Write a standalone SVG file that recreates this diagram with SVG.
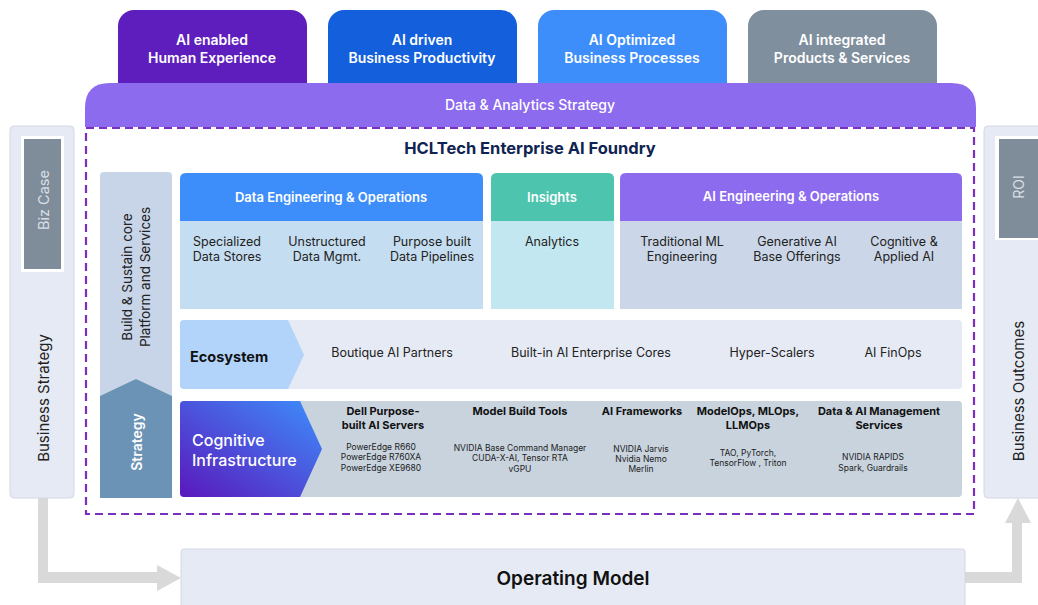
<svg xmlns="http://www.w3.org/2000/svg" width="1038" height="605" viewBox="0 0 1038 605">
<defs>
<style>
text{font-family:Inter,"Noto Sans","Liberation Sans",sans-serif;text-anchor:middle}
.tab{font-size:14px;font-weight:600;fill:#fff}
.hdr{font-size:13px;font-weight:600;fill:#fff}
.item{font-size:12.5px;fill:#222}
.ci-h{font-size:11px;font-weight:700;fill:#111}
.ci-s{font-size:8.5px;fill:#222}
.side{fill:#E6EAF4;stroke:#D3D8E0;stroke-width:1}
.rot{font-size:15px;fill:#222}
</style>
<linearGradient id="cig" x1="0" y1="1" x2="1" y2="0">
<stop offset="0" stop-color="#5A18BC"/>
<stop offset="1" stop-color="#3D8EFB"/>
</linearGradient>
</defs>
<rect width="1038" height="605" fill="#fff"/>

<g id="connectors" fill="#D9D9D9" stroke="none">
<path d="M38,497 H48 V572 H157 V565 L181,578 L157,591 V583 H38 Z"/>
<path d="M964,572 H1012 V523 H1005 L1018,498 L1031,523 H1022 V583 H964 Z"/>
</g>

<g id="tab-human">
<rect x="118" y="10" width="189" height="95" rx="16" fill="#5E1EBE"/>
<text class="tab" x="212" y="45">AI enabled</text>
<text class="tab" x="212" y="63">Human Experience</text>
</g>
<g id="tab-productivity">
<rect x="328" y="10" width="189" height="95" rx="16" fill="#135FDC"/>
<text class="tab" x="422" y="45">AI driven</text>
<text class="tab" x="422" y="63">Business Productivity</text>
</g>
<g id="tab-processes">
<rect x="538" y="10" width="189" height="95" rx="16" fill="#3D8EFB"/>
<text class="tab" x="632" y="45">AI Optimized</text>
<text class="tab" x="632" y="63">Business Processes</text>
</g>
<g id="tab-products">
<rect x="748" y="10" width="189" height="95" rx="16" fill="#7F8F9E"/>
<text class="tab" x="842" y="45">AI integrated</text>
<text class="tab" x="842" y="63">Products &amp; Services</text>
</g>

<g id="band">
<path d="M85,127 V108 Q85,83 110,83 H951 Q976,83 976,108 V127 Z" fill="#8C6BEF"/>
<text x="530" y="110" style="font-size:14px;font-weight:500;fill:#fff">Data &amp; Analytics Strategy</text>
</g>

<g id="business-strategy">
<rect class="side" x="10" y="126" width="64" height="372" rx="4"/>
<rect x="21" y="136" width="43" height="136" fill="#fff"/>
<rect x="24" y="139" width="37" height="130" fill="#7F8C99"/>
<text transform="translate(43,200) rotate(-90)" dominant-baseline="central" style="font-size:14.5px;fill:#D9DEE4">Biz Case</text>
<text class="rot" transform="translate(43,398) rotate(-90)" dominant-baseline="central">Business Strategy</text>
</g>

<g id="business-outcomes">
<rect class="side" x="984" y="126" width="70" height="372" rx="4"/>
<rect x="995" y="136" width="50" height="104" fill="#fff"/>
<rect x="999" y="139" width="45" height="99" fill="#7F8C99"/>
<text transform="translate(1018,187) rotate(-90)" dominant-baseline="central" style="font-size:14px;fill:#D9DEE4">ROI</text>
<text class="rot" transform="translate(1018,391) rotate(-90)" dominant-baseline="central">Business Outcomes</text>
</g>

<g id="foundry">
<rect x="86" y="128" width="888" height="386" fill="none" stroke="#7B2FBE" stroke-width="2.2" stroke-dasharray="8,5"/>
<text x="530" y="154" style="font-size:16.5px;font-weight:700;fill:#0F2452">HCLTech Enterprise AI Foundry</text>
</g>

<g id="build-sustain">
<rect x="100" y="172" width="72" height="240" rx="4" fill="#C8D5E8"/>
<text transform="translate(127,277) rotate(-90)" dominant-baseline="central" style="font-size:13.5px;fill:#222">Build &amp; Sustain core</text>
<text transform="translate(145,277) rotate(-90)" dominant-baseline="central" style="font-size:13.5px;fill:#222">Platform and Services</text>
</g>
<g id="strategy">
<path d="M100,396 L136,379 L172,396 V498 H100 Z" fill="#6B93B5"/>
<text transform="translate(136,442) rotate(-90)" dominant-baseline="central" style="font-size:14px;font-weight:600;fill:#fff">Strategy</text>
</g>

<g id="data-engineering">
<path d="M180,309 V179 Q180,173 186,173 H477 Q483,173 483,179 V309 Z" fill="#C5DDF0"/>
<path d="M180,221 V179 Q180,173 186,173 H477 Q483,173 483,179 V221 Z" fill="#3D8EFB"/>
<text class="hdr" x="331" y="202">Data Engineering &amp; Operations</text>
<text class="item" x="227" y="246">Specialized</text>
<text class="item" x="227" y="261">Data Stores</text>
<text class="item" x="327" y="246">Unstructured</text>
<text class="item" x="327" y="261">Data Mgmt.</text>
<text class="item" x="432" y="246">Purpose built</text>
<text class="item" x="432" y="261">Data Pipelines</text>
</g>

<g id="insights">
<path d="M491,309 V179 Q491,173 497,173 H608 Q614,173 614,179 V309 Z" fill="#C3E7F0"/>
<path d="M491,221 V179 Q491,173 497,173 H608 Q614,173 614,179 V221 Z" fill="#4CC4AE"/>
<text class="hdr" x="552" y="202">Insights</text>
<text class="item" x="552" y="246">Analytics</text>
</g>

<g id="ai-engineering">
<path d="M620,309 V179 Q620,173 626,173 H956 Q962,173 962,179 V309 Z" fill="#CBD7E8"/>
<path d="M620,221 V179 Q620,173 626,173 H956 Q962,173 962,179 V221 Z" fill="#8C6BEF"/>
<text class="hdr" x="791" y="201">AI Engineering &amp; Operations</text>
<text class="item" x="682" y="246">Traditional ML</text>
<text class="item" x="682" y="261">Engineering</text>
<text class="item" x="797" y="246">Generative AI</text>
<text class="item" x="797" y="261">Base Offerings</text>
<text class="item" x="904" y="246">Cognitive &amp;</text>
<text class="item" x="904" y="261">Applied AI</text>
</g>

<g id="ecosystem">
<rect x="180" y="320" width="782" height="69" rx="4" fill="#E6EAF4"/>
<path d="M184,320 H288 L304,355 L288,389 H184 Q180,389 180,385 V324 Q180,320 184,320 Z" fill="#B3D4FA"/>
<text x="190" y="362" style="font-size:14.5px;font-weight:700;fill:#111;text-anchor:start">Ecosystem</text>
<text class="item" x="392" y="357">Boutique AI Partners</text>
<text class="item" x="591" y="357">Built-in AI Enterprise Cores</text>
<text class="item" x="772" y="357">Hyper-Scalers</text>
<text class="item" x="893" y="357">AI FinOps</text>
</g>

<g id="cognitive-infrastructure">
<rect x="180" y="401" width="782" height="96" rx="4" fill="#C8D3DE"/>
<path d="M184,401 H300 L322,449 L300,497 H184 Q180,497 180,493 V405 Q180,401 184,401 Z" fill="url(#cig)"/>
<text x="192" y="446" style="font-size:16px;font-weight:500;fill:#fff;text-anchor:start">Cognitive</text>
<text x="192" y="466" style="font-size:16px;font-weight:500;fill:#fff;text-anchor:start">Infrastructure</text>
<text class="ci-h" x="383" y="415">Dell Purpose-</text>
<text class="ci-h" x="383" y="429">built AI Servers</text>
<text class="ci-s" x="381" y="450">PowerEdge R660</text>
<text class="ci-s" x="381" y="460">PowerEdge R760XA</text>
<text class="ci-s" x="381" y="471">PowerEdge XE9680</text>
<text class="ci-h" x="520" y="415">Model Build Tools</text>
<text class="ci-s" x="520" y="451">NVIDIA Base Command Manager</text>
<text class="ci-s" x="520" y="461">CUDA-X-AI, Tensor RTA</text>
<text class="ci-s" x="520" y="472">vGPU</text>
<text class="ci-h" x="642" y="415">AI Frameworks</text>
<text class="ci-s" x="641" y="452">NVIDIA Jarvis</text>
<text class="ci-s" x="641" y="462">Nvidia Nemo</text>
<text class="ci-s" x="641" y="472">Merlin</text>
<text class="ci-h" x="748" y="415">ModelOps, MLOps,</text>
<text class="ci-h" x="748" y="429">LLMOps</text>
<text class="ci-s" x="748" y="456">TAO, PyTorch,</text>
<text class="ci-s" x="748" y="466">TensorFlow , Triton</text>
<text class="ci-h" x="879" y="415">Data &amp; AI Management</text>
<text class="ci-h" x="879" y="429">Services</text>
<text class="ci-s" x="873" y="460">NVIDIA RAPIDS</text>
<text class="ci-s" x="873" y="471">Spark, Guardrails</text>
</g>

<g id="operating-model">
<rect class="side" x="181" y="549" width="784" height="70" rx="3"/>
<text x="573" y="585" style="font-size:19px;font-weight:600;fill:#111">Operating Model</text>
</g>
</svg>
